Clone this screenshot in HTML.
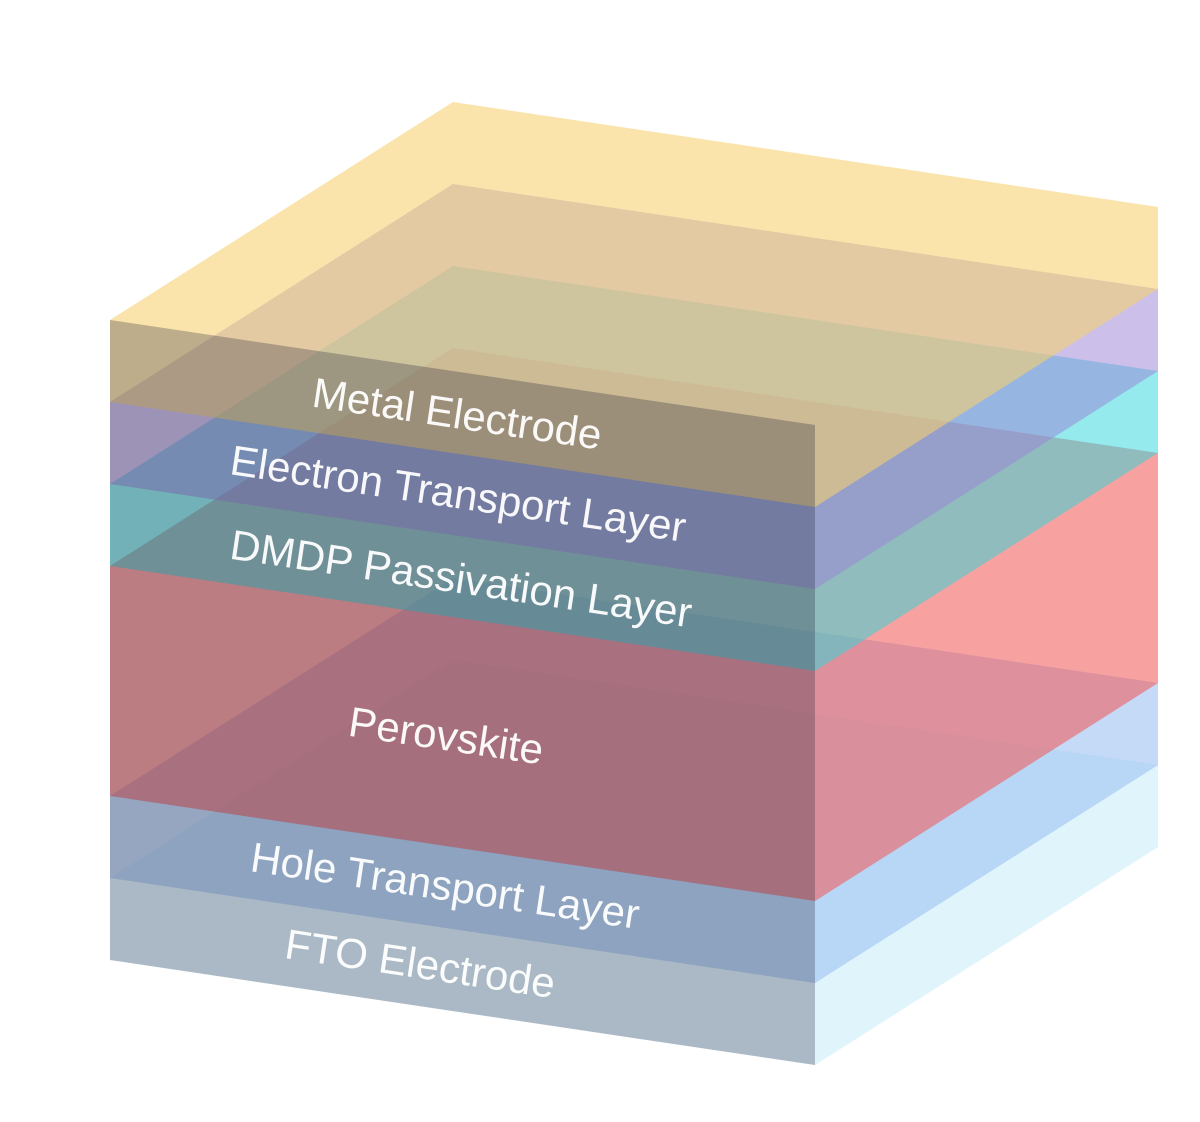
<!DOCTYPE html>
<html><head><meta charset="utf-8"><style>
html,body{margin:0;padding:0;background:#fff;}
svg{display:block;}
text{font-family:"Liberation Sans",sans-serif;font-size:42px;fill:#fff;text-anchor:middle;fill-opacity:0.95;}
</style></head><body>
<svg width="1200" height="1122" viewBox="0 0 1200 1122" xmlns="http://www.w3.org/2000/svg">
<!-- FTO -->
<g fill="#cfeefa" fill-opacity="0.4">
<polygon points="453,660 1158,765 1158,847 453,742"/>
<polygon points="110,878 453,660 453,742 110,960"/>
<polygon points="110,960 815,1065 1158,847 453,742"/>
<polygon points="110,878 815,983 1158,765 453,660"/>
<polygon points="110,878 815,983 815,1065 110,960"/>
<polygon points="815,983 1158,765 1158,847 815,1065"/>
</g>
<!-- HTL -->
<g fill="#9cc0f0" fill-opacity="0.35">
<polygon points="453,578 1158,683 1158,765 453,660"/>
<polygon points="110,796 453,578 453,660 110,878"/>
<polygon points="110,878 815,983 1158,765 453,660"/>
<polygon points="110,796 815,901 1158,683 453,578"/>
<polygon points="110,796 815,901 815,983 110,878"/>
<polygon points="815,901 1158,683 1158,765 815,983"/>
</g>
<!-- Perovskite -->
<g fill="#f05c5c" fill-opacity="0.35">
<polygon points="453,348 1158,453 1158,683 453,578"/>
<polygon points="110,566 453,348 453,578 110,796"/>
<polygon points="110,796 815,901 1158,683 453,578"/>
<polygon points="110,566 815,671 1158,453 453,348"/>
<polygon points="110,566 815,671 815,901 110,796"/>
<polygon points="815,671 1158,453 1158,683 815,901"/>
</g>
<!-- DMDP -->
<g fill="#30d8dc" fill-opacity="0.3">
<polygon points="453,266 1158,371 1158,453 453,348"/>
<polygon points="110,484 453,266 453,348 110,566"/>
<polygon points="110,566 815,671 1158,453 453,348"/>
<polygon points="110,484 815,589 1158,371 453,266"/>
<polygon points="110,484 815,589 815,671 110,566"/>
<polygon points="815,589 1158,371 1158,453 815,671"/>
</g>
<!-- ETL -->
<g fill="#9a84d8" fill-opacity="0.3">
<polygon points="453,184 1158,289 1158,371 453,266"/>
<polygon points="110,402 453,184 453,266 110,484"/>
<polygon points="110,484 815,589 1158,371 453,266"/>
<polygon points="110,402 815,507 1158,289 453,184"/>
<polygon points="110,402 815,507 815,589 110,484"/>
<polygon points="815,507 1158,289 1158,371 815,589"/>
</g>
<!-- Metal -->
<g fill="#f6d070" fill-opacity="0.35">
<polygon points="453,102 1158,207 1158,289 453,184"/>
<polygon points="110,320 453,102 453,184 110,402"/>
<polygon points="110,402 815,507 1158,289 453,184"/>
<polygon points="110,320 815,425 1158,207 453,102"/>
<polygon points="110,320 815,425 815,507 110,402"/>
<polygon points="815,425 1158,207 1158,289 815,507"/>
</g>
<!-- front face shading -->
<polygon points="110,320 815,425 815,1065 110,960" fill="#1a1a30" fill-opacity="0.27"/>
<text transform="translate(455,428) rotate(8.5)">Metal Electrode</text>
<text transform="translate(456,508) rotate(8.5)">Electron Transport Layer</text>
<text transform="translate(459,593) rotate(8.5)">DMDP Passivation Layer</text>
<text transform="translate(444,750) rotate(8.5)">Perovskite</text>
<text transform="translate(443,900) rotate(8.5)">Hole Transport Layer</text>
<text transform="translate(418,978) rotate(8.5)">FTO Electrode</text>
</svg>
</body></html>
